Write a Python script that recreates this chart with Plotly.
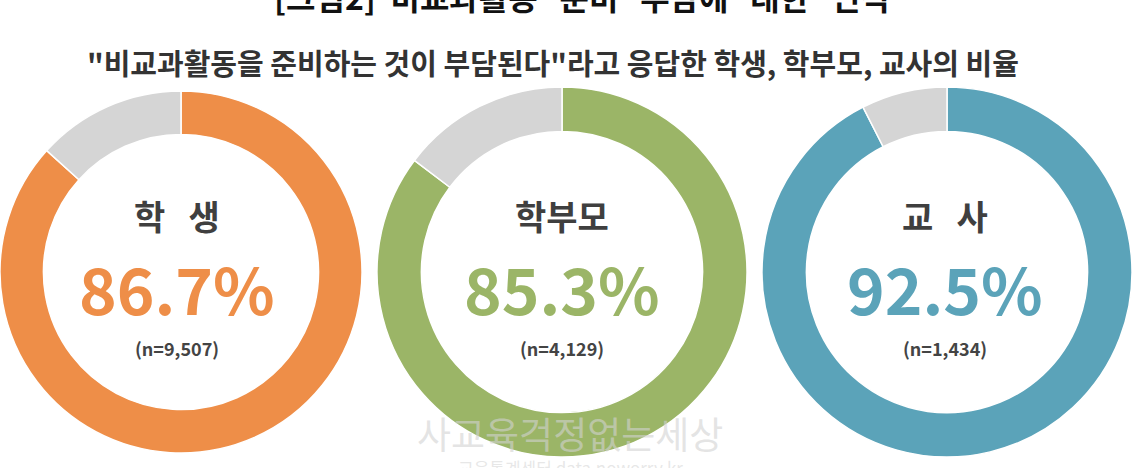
import plotly.graph_objects as go

# ---- data ----
groups = ["학\u00a0\u00a0\u00a0생", "학부모", "교\u00a0\u00a0\u00a0사"]
agree_pct = [86.7, 85.3, 92.5]
rest_pct = [13.3, 14.7, 7.5]
sample_n = ["9,507", "4,129", "1,434"]
slice_labels = ["부담된다", "기타"]

title_text = "[그림2]\u00a0\u00a0비교과활동\u00a0\u00a0\u00a0준비\u00a0\u00a0\u00a0부담에\u00a0\u00a0\u00a0대한\u00a0\u00a0\u00a0인식"
subtitle_text = "\"비교과활동을 준비하는 것이 부담된다\"라고 응답한 학생, 학부모, 교사의 비율"
watermark_1 = "사교육걱정없는세상"
watermark_2 = "교육통계센터 data.noworry.kr"

# ---- style ----
W, H = 1140, 468
ring_colors = ["#EE8E48", "#9BB567", "#5BA3B9"]
rest_color = "#D5D5D5"
label_color = "#3F3F3F"
font_kr = "Noto Sans CJK KR"

centers_x = [181, 562, 947]
radii = [181, 185, 185]
text_x = [177, 562, 945]
center_y = 272


def px_x(x):
    return x / W


def px_y(y):
    return (H - y) / H


fig = go.Figure()
for i, g in enumerate(groups):
    cx, r = centers_x[i], radii[i]
    fig.add_trace(go.Pie(
        labels=slice_labels,
        values=[agree_pct[i], rest_pct[i]],
        hole=0.76,
        sort=False,
        direction="clockwise",
        rotation=0,
        textinfo="none",
        hoverinfo="label+percent",
        showlegend=False,
        marker=dict(
            colors=[ring_colors[i], rest_color],
            line=dict(color="white", width=1.5),
        ),
        domain=dict(x=[px_x(max(0, cx - r)), px_x(min(W, cx + r))],
                    y=[px_y(center_y + r), px_y(center_y - r)]),
    ))

annotations = []
for i, g in enumerate(groups):
    tx = px_x(text_x[i])
    annotations.append(dict(
        x=tx, y=px_y(215), xref="paper", yref="paper", text=f"<b>{g}</b>",
        showarrow=False, xanchor="center", yanchor="middle",
        font=dict(family=font_kr, size=34, color=label_color)))
    annotations.append(dict(
        x=tx, y=px_y(287), xref="paper", yref="paper",
        text=f"<b>{agree_pct[i]:.1f}%</b>",
        showarrow=False, xanchor="center", yanchor="middle",
        font=dict(family=font_kr, size=64, color=ring_colors[i])))
    annotations.append(dict(
        x=tx, y=px_y(348), xref="paper", yref="paper",
        text=f"<b>(n={sample_n[i]})</b>",
        showarrow=False, xanchor="center", yanchor="middle",
        font=dict(family=font_kr, size=18, color="#444444")))

annotations.append(dict(
    x=px_x(582), y=px_y(-4), xref="paper", yref="paper", text=f"<b>{title_text}</b>",
    showarrow=False, xanchor="center", yanchor="middle",
    font=dict(family=font_kr, size=32, color="#111111")))
annotations.append(dict(
    x=px_x(553), y=px_y(62), xref="paper", yref="paper", text=f"<b>{subtitle_text}</b>",
    showarrow=False, xanchor="center", yanchor="middle",
    font=dict(family=font_kr, size=29, color="#333333")))
annotations.append(dict(
    x=px_x(570), y=px_y(433), xref="paper", yref="paper", text=watermark_1,
    showarrow=False, xanchor="center", yanchor="middle",
    font=dict(family=font_kr, size=37, color="rgba(210,210,210,0.6)")))
annotations.append(dict(
    x=px_x(570), y=px_y(467), xref="paper", yref="paper", text=watermark_2,
    showarrow=False, xanchor="center", yanchor="middle",
    font=dict(family=font_kr, size=17, color="rgba(215,215,215,0.6)")))

fig.update_layout(
    width=W, height=H,
    margin=dict(l=0, r=0, t=0, b=0),
    paper_bgcolor="white",
    plot_bgcolor="white",
    annotations=annotations,
)

fig.write_html("out.html")
